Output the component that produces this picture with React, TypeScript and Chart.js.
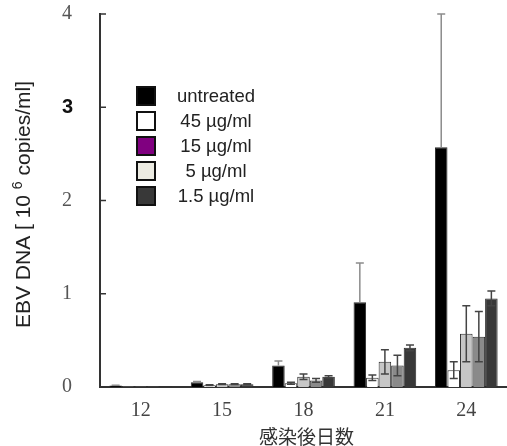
import React, { useEffect, useRef } from 'react';
import { Chart, registerables } from 'chart.js';

Chart.register(...registerables);

const days = ['12', '15', '18', '21', '24'];
const seriesLabels = ['untreated', '45 µg/ml', '15 µg/ml', '5 µg/ml', '1.5 µg/ml'];

const untreated = [0.015, 0.05, 0.23, 0.91, 2.57];
const dose45 = [0.006, 0.02, 0.04, 0.10, 0.18];
const dose15 = [0.006, 0.03, 0.11, 0.27, 0.57];
const dose5 = [0.006, 0.03, 0.07, 0.23, 0.54];
const dose1_5 = [0.006, 0.03, 0.11, 0.42, 0.95];

const errUntreated = [0.005, 0.01, 0.05, 0.42, 1.43];
const err45 = [0, 0.004, 0.01, 0.03, 0.09];
const err15 = [0, 0.004, 0.03, 0.13, 0.30];
const err5 = [0, 0.004, 0.02, 0.11, 0.27];
const err1_5 = [0, 0.004, 0.01, 0.03, 0.08];

const yTickValues = [0, 1, 2, 3, 4];

const barColors = ['#000000', '#ffffff', '#c6c6c6', '#8a8a8a', '#383838'];
const legendColors = ['#000000', '#ffffff', '#800080', '#ecebe2', '#383838'];

const seriesValues = [untreated, dose45, dose15, dose5, dose1_5];
const seriesErrors = [errUntreated, err45, err15, err5, err1_5];

const errorBarPlugin = {
  id: 'errorBars',
  afterDatasetsDraw(chart: any) {
    const { ctx } = chart;
    const yScale = chart.scales.y;
    chart.data.datasets.forEach((ds: any, i: number) => {
      const meta = chart.getDatasetMeta(i);
      const errs = seriesErrors[i];
      meta.data.forEach((bar: any, j: number) => {
        const v = ds.data[j];
        const e = errs[j];
        if (!e) return;
        const x = bar.x;
        const yTop = yScale.getPixelForValue(v + e);
        const yBot = yScale.getPixelForValue(Math.max(0, v - e));
        const yMid = yScale.getPixelForValue(v);
        ctx.save();
        ctx.strokeStyle = i === 0 ? '#8c8c8c' : '#444444';
        ctx.lineWidth = 1.5;
        ctx.beginPath();
        if (i === 0) {
          ctx.moveTo(x, yMid);
          ctx.lineTo(x, yTop);
          ctx.moveTo(x - 4, yTop);
          ctx.lineTo(x + 4, yTop);
        } else {
          ctx.moveTo(x, yBot);
          ctx.lineTo(x, yTop);
          ctx.moveTo(x - 4, yTop);
          ctx.lineTo(x + 4, yTop);
          ctx.moveTo(x - 4, yBot);
          ctx.lineTo(x + 4, yBot);
        }
        ctx.stroke();
        ctx.restore();
      });
    });
  },
};

const decorPlugin = {
  id: 'decor',
  afterDraw(chart: any) {
    const { ctx, chartArea } = chart;
    const yScale = chart.scales.y;
    ctx.save();
    // inward y ticks
    ctx.strokeStyle = '#333333';
    ctx.lineWidth = 1.5;
    yTickValues.forEach((v) => {
      const y = yScale.getPixelForValue(v);
      ctx.beginPath();
      ctx.moveTo(chartArea.left, y);
      ctx.lineTo(chartArea.left + 6, y);
      ctx.stroke();
    });

    // legend
    const boxX = 136;
    const boxW = 20;
    const rowY0 = 96;
    const rowStep = 25;
    ctx.font = '18.5px "Liberation Sans", Arial, sans-serif';
    ctx.textAlign = 'center';
    ctx.textBaseline = 'middle';
    seriesLabels.forEach((lab, i) => {
      const cy = rowY0 + i * rowStep;
      ctx.fillStyle = legendColors[i];
      ctx.fillRect(boxX, cy - 10, boxW, 20);
      ctx.strokeStyle = '#111111';
      ctx.lineWidth = 2;
      ctx.strokeRect(boxX + 1, cy - 9, boxW - 2, 18);
      ctx.fillStyle = '#222222';
      ctx.fillText(lab, 216, cy + 1);
    });

    // y title with superscript
    const cx = 24;
    const cy = (chartArea.top + chartArea.bottom) / 2 + 4;
    const p1 = 'EBV DNA [ 10 ';
    const p2 = '6';
    const p3 = ' copies/ml]';
    const mainFont = '21px "Liberation Sans", Arial, sans-serif';
    const supFont = '14px "Liberation Sans", Arial, sans-serif';
    ctx.font = mainFont;
    const w1 = ctx.measureText(p1).width;
    const w3 = ctx.measureText(p3).width;
    ctx.font = supFont;
    const w2 = ctx.measureText(p2).width;
    const total = w1 + w2 + w3;
    ctx.translate(cx, cy);
    ctx.rotate(-Math.PI / 2);
    ctx.textAlign = 'left';
    ctx.textBaseline = 'middle';
    ctx.fillStyle = '#222222';
    let sx = -total / 2;
    ctx.font = mainFont;
    ctx.fillText(p1, sx, 0);
    sx += w1;
    ctx.font = supFont;
    ctx.fillText(p2, sx, -6);
    sx += w2;
    ctx.font = mainFont;
    ctx.fillText(p3, sx, 0);
    ctx.restore();

    // x title
    ctx.save();
    ctx.font = '19px "Noto Sans CJK JP", sans-serif';
    ctx.fillStyle = '#333333';
    ctx.textAlign = 'center';
    ctx.textBaseline = 'middle';
    ctx.fillText('感染後日数', (chartArea.left + chartArea.right) / 2 + 3, 437);
    ctx.restore();
  },
};

export default function App() {
  const canvasRef = useRef<HTMLCanvasElement | null>(null);

  useEffect(() => {
    if (!canvasRef.current) return;
    const chart = new Chart(canvasRef.current, {
      type: 'bar',
      data: {
        labels: days,
        datasets: seriesValues.map((vals, i) => ({
          label: seriesLabels[i],
          data: vals,
          backgroundColor: barColors[i],
          borderColor: '#2a2a2a',
          borderWidth: 1,
          borderSkipped: 'bottom',
          barPercentage: 1.0,
          categoryPercentage: 0.77,
        })),
      },
      options: {
        responsive: false,
        animation: false,
        layout: { padding: { top: 14, right: 0, left: 62, bottom: 0 } },
        plugins: {
          legend: { display: false },
          tooltip: { enabled: false },
        },
        scales: {
          x: {
            grid: { display: false, drawTicks: false },
            border: { display: true, color: '#333333', width: 2 },
            ticks: {
              padding: 12,
              color: '#444444',
              font: { family: '"Liberation Serif", "DejaVu Serif", serif', size: 20 },
            },
            afterFit(scale: any) {
              scale.height = 59;
            },
          },
          y: {
            min: 0,
            max: 4,
            grid: { display: false, drawTicks: false },
            border: { display: true, color: '#333333', width: 2 },
            ticks: {
              stepSize: 1,
              padding: 0,
              crossAlign: 'far',
              color: (c: any) => (c.tick && c.tick.value === 3 ? '#111111' : '#555555'),
              font: (c: any) =>
                c.tick && c.tick.value === 3
                  ? { family: '"Liberation Sans", Arial, sans-serif', size: 20, weight: 'bold' }
                  : { family: '"Liberation Serif", "DejaVu Serif", serif', size: 20 },
            },
            afterFit(scale: any) {
              scale.width = 38;
            },
          },
        },
      },
      plugins: [errorBarPlugin, decorPlugin],
    });
    return () => chart.destroy();
  }, []);

  return (
    <div style={{ position: 'absolute', left: 0, top: 0, width: 507, height: 446, background: '#ffffff' }}>
      <canvas ref={canvasRef} width={507} height={446} style={{ width: 507, height: 446 }} />
    </div>
  );
}
